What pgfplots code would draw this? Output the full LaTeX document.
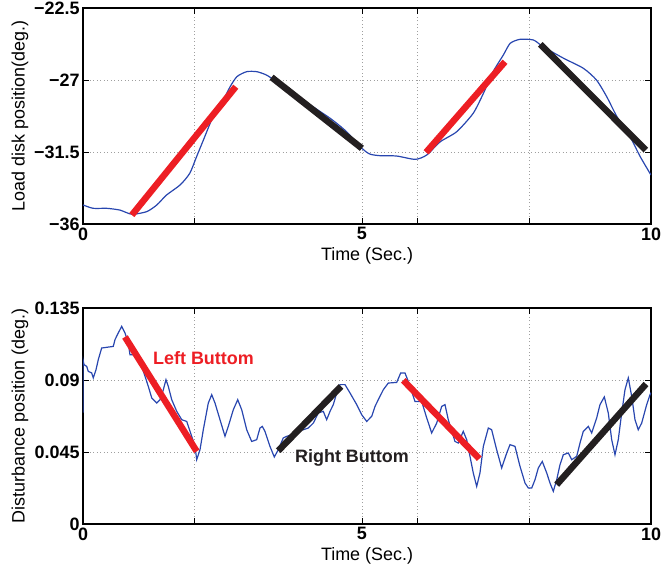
\documentclass[border=0pt]{standalone}
\usepackage{pgfplots}
\pgfplotsset{compat=1.18}
\usepackage{fontspec}
\setmainfont{Liberation Sans}
\definecolor{mblue}{RGB}{40,70,175}
\definecolor{mred}{RGB}{237,30,36}
\definecolor{mblack}{RGB}{35,31,32}
\pgfplotsset{myax/.style={
  width=568bp, height=216bp, scale only axis,
  xmin=0, xmax=10,
  xtick={0,1.96,4.91,5.89,7.85,10}, xticklabels={0,,5,,,10},
  grid=major,
  major grid style={draw=gray!75, line width=0.6bp, dash pattern=on 1bp off 2.5bp},
  tick style={black, line width=0.7bp},
  major tick length=6bp,
  axis line style={line width=1.1bp},
  ticklabel style={font=\bfseries\fontsize{18}{20}\selectfont},
  label style={font=\fontsize{18}{20}\selectfont},
  scaled ticks=false,
  xlabel={Time (Sec.)},
  xlabel style={at={(axis description cs:0.5,-0.146)}, anchor=center, inner sep=0pt},
  ylabel style={at={(axis description cs:-0.111,0.5)}, anchor=center, inner sep=0pt},
  clip=true,
}}
\begin{document}
\begin{tikzpicture}
\useasboundingbox (-83bp,8bp) rectangle (578bp,-563bp);
\begin{axis}[myax, at={(0,0)}, anchor=north west,
  ymin=-36, ymax=-22.5, ytick={-36,-31.5,-27,-22.5},
  yticklabels={−36,−31.5,−27,−22.5},
  ylabel={Load disk position(deg.)}]
\addplot[mblue, line width=1.2bp, smooth, tension=0.4] coordinates {
(0,-34.81) (0.18,-35.02) (0.42,-35.02) (0.65,-35.13) (0.86,-35.39) (1.12,-35.23)
(1.30,-34.81) (1.47,-34.19) (1.71,-33.56) (1.88,-32.83) (2.00,-31.79) (2.12,-30.75)
(2.29,-29.29) (2.47,-28.25) (2.59,-27.42) (2.71,-26.79) (2.88,-26.48) (3.06,-26.48)
(3.23,-26.69) (3.41,-27.11) (3.82,-28.13) (4.35,-29.39) (4.64,-30.23) (4.91,-31.27)
(5.05,-31.63) (5.23,-31.73) (5.52,-31.75) (5.85,-31.96) (6.05,-31.69) (6.29,-30.86)
(6.58,-30.23) (6.87,-29.08) (7.05,-27.83) (7.22,-26.48) (7.40,-25.44) (7.52,-24.71)
(7.69,-24.46) (7.93,-24.50) (8.10,-24.92) (8.46,-25.64) (8.81,-26.27) (9.04,-27.0)
(9.22,-28.04) (9.40,-29.29) (9.63,-30.54) (9.81,-31.79) (10.0,-32.94)};
\addplot[mred, line width=6.5bp] coordinates {(0.86,-35.44) (2.69,-27.42)};
\addplot[mblack, line width=6.5bp] coordinates {(3.32,-26.83) (4.91,-31.27)};
\addplot[mred, line width=6.5bp] coordinates {(6.04,-31.52) (7.43,-25.86)};
\addplot[mblack, line width=6.5bp] coordinates {(8.05,-24.77) (9.91,-31.38)};
\end{axis}
\begin{axis}[myax, at={(0,-300bp)}, anchor=north west,
  ymin=0, ymax=0.135, ytick={0,0.045,0.09,0.135},
  yticklabels={0,0.045,0.09,0.135},
  ylabel={Disturbance position (deg.)}]
\addplot[mblue, line width=1.2bp] coordinates {
(0,0.0696) (0,0.1027) (0.018,0.0996) (0.065,0.0985) (0.093,0.0954) (0.153,0.0944)
(0.181,0.0913) (0.229,0.0964) (0.269,0.1027) (0.329,0.1100) (0.533,0.1110) (0.563,0.1152)
(0.621,0.1194) (0.681,0.1235) (0.739,0.1194) (0.798,0.1131) (0.827,0.1058) (0.915,0.1058)
(1.004,0.1016) (1.092,0.0923) (1.150,0.0860) (1.210,0.0788) (1.298,0.0756) (1.356,0.0777)
(1.414,0.0839) (1.461,0.0902) (1.502,0.0860) (1.562,0.0777) (1.650,0.0704) (1.738,0.0652)
(1.826,0.0641) (1.884,0.0579) (1.972,0.0485) (2.002,0.0402) (2.060,0.0464) (2.118,0.0589)
(2.206,0.0756) (2.266,0.0808) (2.324,0.0756) (2.412,0.0652) (2.500,0.0548) (2.558,0.0610)
(2.646,0.0714) (2.724,0.0777) (2.794,0.0714) (2.882,0.0589) (2.970,0.0516) (3.058,0.0527)
(3.116,0.0600) (3.157,0.0610) (3.204,0.0579) (3.292,0.0485) (3.368,0.0419) (3.438,0.0464)
(3.526,0.0538) (3.586,0.0548) (3.674,0.0558) (3.762,0.0589) (3.879,0.0589) (3.967,0.0600)
(4.055,0.0631) (4.143,0.0694) (4.231,0.0704) (4.290,0.0652) (4.349,0.0704) (4.407,0.0746)
(4.467,0.0819) (4.525,0.0871) (4.613,0.0871) (4.701,0.0819) (4.819,0.0746) (4.907,0.0683)
(4.995,0.0641) (5.083,0.0673) (5.141,0.0735) (5.199,0.0777) (5.287,0.0839) (5.375,0.0881)
(5.523,0.0885) (5.593,0.0944) (5.669,0.0944) (5.727,0.0891) (5.815,0.0798) (5.845,0.0766)
(5.963,0.0766) (6.051,0.0663) (6.139,0.0569) (6.227,0.0631) (6.315,0.0735) (6.373,0.0746)
(6.431,0.0652) (6.549,0.0516) (6.607,0.0506) (6.695,0.0579) (6.755,0.0527) (6.813,0.0423)
(6.871,0.0319) (6.931,0.0235) (6.989,0.0319) (7.048,0.0485) (7.136,0.0600) (7.195,0.0589)
(7.283,0.0464) (7.371,0.0350) (7.460,0.0444) (7.518,0.0496) (7.606,0.0485) (7.694,0.0360)
(7.782,0.0256) (7.840,0.0225) (7.900,0.0225) (7.958,0.0277) (8.016,0.0350) (8.086,0.0391)
(8.164,0.0319) (8.222,0.0256) (8.280,0.0204) (8.340,0.0277) (8.398,0.0371) (8.456,0.0433)
(8.544,0.0444) (8.604,0.0402) (8.692,0.0423) (8.750,0.0506) (8.808,0.0579) (8.896,0.0610)
(8.956,0.0569) (9.044,0.0663) (9.102,0.0746) (9.178,0.0794) (9.248,0.0694) (9.308,0.0527)
(9.366,0.0433) (9.424,0.0527) (9.484,0.0694) (9.542,0.0839) (9.600,0.0913) (9.660,0.0798)
(9.718,0.0652) (9.776,0.0589) (9.836,0.0631) (9.924,0.0746) (9.982,0.0808) (10.0,0.0821)};
\addplot[mred, line width=6.5bp] coordinates {(0.739,0.1169) (2.002,0.0454)};
\addplot[mblack, line width=6.5bp] coordinates {(3.438,0.0458) (4.542,0.0860)};
\addplot[mred, line width=6.5bp] coordinates {(5.639,0.0898) (6.977,0.0408)};
\addplot[mblack, line width=6.5bp] coordinates {(8.340,0.0246) (9.912,0.0875)};
\node[anchor=west, inner sep=0pt, text=mred, font=\bfseries\fontsize{18}{20}\selectfont] at (axis cs:1.232,0.104) {Left Buttom};
\node[anchor=west, inner sep=0pt, text=mblack, font=\bfseries\fontsize{18}{20}\selectfont] at (axis cs:3.732,0.0414) {Right Buttom};
\end{axis}
\end{tikzpicture}
\end{document}
